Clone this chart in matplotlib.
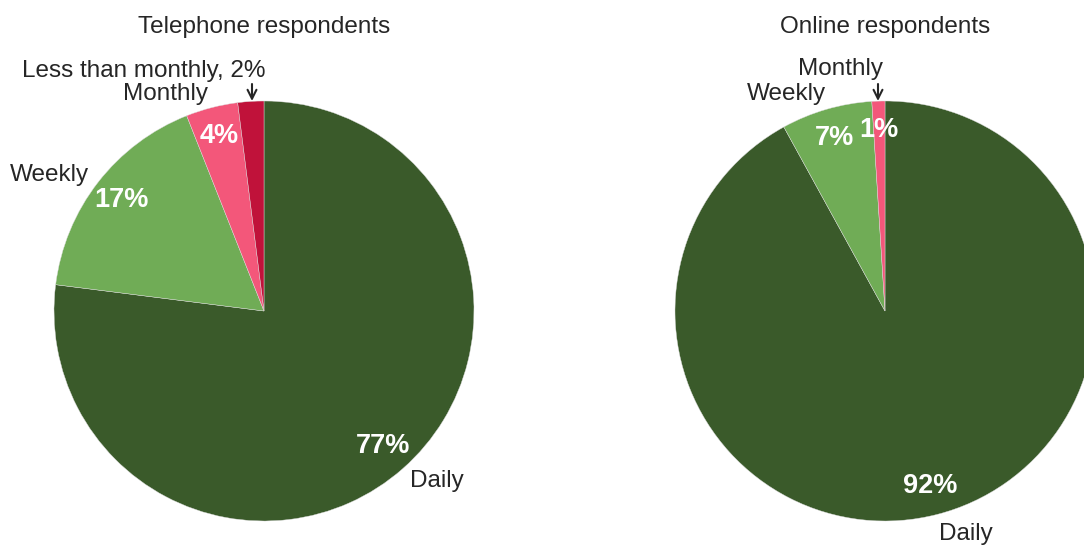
import matplotlib.pyplot as plt

plt.rcParams['font.family'] = ['Liberation Sans', 'DejaVu Sans']

# Data
categories = ['Daily', 'Weekly', 'Monthly', 'Less than monthly']
telephone = [77, 17, 4, 2]
online = [92, 7, 1]
colors = ['#3A5A2A', '#70AC56', '#F3577A', '#C0123A']

W, H = 1084, 545
R = 210
text_color = '#262626'
label_size = 17.5
pct_size = 19.5

fig = plt.figure(figsize=(W / 100, H / 100), dpi=100)


def pie_axes(cx, cy):
    # square axes of radius R pixels centred at (cx, cy), y measured from the top
    ax = fig.add_axes([(cx - R) / W, (H - cy - R) / H, 2 * R / W, 2 * R / H])
    ax.axis('off')
    return ax


def px(cx, cy, x, y):
    return (x - cx) / R, (cy - y) / R


def draw_pie(ax, values, inner=None):
    # inner: indices of wedges whose percentage is written inside the wedge
    wedges, _, autotexts = ax.pie(values, colors=colors[:len(values)], startangle=90,
                                  counterclock=False, radius=1, pctdistance=0.86,
                                  autopct=lambda p: f'{p:.0f}%',
                                  wedgeprops=dict(linewidth=0.3, edgecolor='#dddddd'))
    for i, t in enumerate(autotexts):
        t.set_color('white')
        t.set_fontsize(pct_size)
        t.set_fontweight('bold')
        if inner is not None and i not in inner:
            t.set_visible(False)
    ax.set_xlim(-1, 1)
    ax.set_ylim(-1, 1)
    ax.set_aspect('equal')


def arrow(ax, cx, cy, x, y0, y1):
    ax.annotate('', xy=px(cx, cy, x, y1), xytext=px(cx, cy, x, y0),
                arrowprops=dict(arrowstyle='->', color=text_color, lw=1.5,
                                mutation_scale=16, shrinkA=0, shrinkB=0),
                annotation_clip=False)


def label(ax, cx, cy, x, y, s, ha):
    ax.text(*px(cx, cy, x, y), s, ha=ha, va='center', fontsize=label_size,
            color=text_color, clip_on=False)


# Telephone respondents
cx, cy = 264, 311
ax1 = pie_axes(cx, cy)
draw_pie(ax1, telephone, inner=[0, 1, 2])
fig.text(cx / W, 1 - 27 / H, 'Telephone respondents', ha='center', va='center',
         fontsize=label_size, color=text_color)
label(ax1, cx, cy, 265, 71, f'{categories[3]}, {telephone[3]}%', 'right')
arrow(ax1, cx, cy, 252, 84, 101)
label(ax1, cx, cy, 208, 94, categories[2], 'right')
label(ax1, cx, cy, 10, 175, categories[1], 'left')
label(ax1, cx, cy, 410, 481, categories[0], 'left')

# Online respondents
cx, cy = 885, 311
ax2 = pie_axes(cx, cy)
draw_pie(ax2, online)
fig.text(cx / W, 1 - 27 / H, 'Online respondents', ha='center', va='center',
         fontsize=label_size, color=text_color)
label(ax2, cx, cy, 841, 69, categories[2], 'center')
arrow(ax2, cx, cy, 878, 84, 101)
label(ax2, cx, cy, 786, 94, categories[1], 'center')
label(ax2, cx, cy, 966, 534, categories[0], 'center')

fig.savefig('out.png', dpi=100)
